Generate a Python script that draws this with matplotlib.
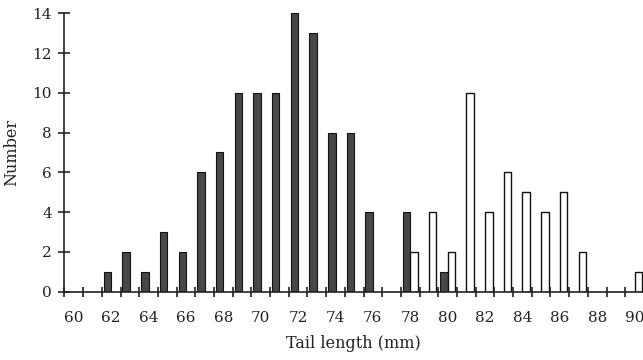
import matplotlib
matplotlib.use("Agg")
import matplotlib.pyplot as plt
from matplotlib.ticker import FixedLocator

# Data
dark_lengths = [62, 63, 64, 65, 66, 67, 68, 69, 70, 71, 72, 73, 74, 75, 76, 78, 80]
dark_counts = [1, 2, 1, 3, 2, 6, 7, 10, 10, 10, 14, 13, 8, 8, 4, 4, 1]
open_lengths = [78, 79, 80, 81, 82, 83, 84, 85, 86, 87, 90]
open_counts = [2, 4, 2, 10, 4, 6, 5, 4, 5, 2, 1]
x_tick_labels = [60, 62, 64, 66, 68, 70, 72, 74, 76, 78, 80, 82, 84, 86, 88, 90]
y_ticks = [0, 2, 4, 6, 8, 10, 12, 14]

plt.rcParams['font.family'] = ['DejaVu Serif']

fig = plt.figure(figsize=(6.43, 3.6), dpi=100)
ax = fig.add_axes([0.1003, 0.19, 0.8997, 0.773])

bw = 0.4
ax.bar(dark_lengths, dark_counts, width=-bw, align='edge',
       color='#474747', edgecolor='#111111', linewidth=0.8, zorder=2)
ax.bar(open_lengths, open_counts, width=bw, align='edge',
       color='white', edgecolor='#111111', linewidth=1.0, zorder=2)

ax.set_xlim(59.5, 90.45)
ax.set_ylim(0, 14)

for s in ['top', 'right']:
    ax.spines[s].set_visible(False)
for s in ['left', 'bottom']:
    ax.spines[s].set_linewidth(1.2)
    ax.spines[s].set_color('#222222')
    ax.spines[s].set_zorder(3)

# labels at even integers (no marks), tick marks at bin edges
ax.xaxis.set_major_locator(FixedLocator(x_tick_labels))
ax.set_xticklabels([str(v) for v in x_tick_labels])
edges = [59.5 + i for i in range(31)]
ax.xaxis.set_minor_locator(FixedLocator(edges))
ax.tick_params(axis='x', which='major', length=0, pad=14, labelsize=11, colors='#222222')
ax.tick_params(axis='x', which='minor', length=7, width=1.2, direction='inout', color='#222222')

ax.set_yticks(y_ticks)
ax.tick_params(axis='y', which='major', length=8, width=1.2, direction='inout',
               pad=5, labelsize=11, colors='#222222')

ax.set_xlabel('Tail length (mm)', fontsize=11.5, color='#222222', labelpad=7)
ax.set_ylabel('Number', fontsize=11.5, color='#222222', labelpad=9)

fig.savefig('out.png', dpi=100)
